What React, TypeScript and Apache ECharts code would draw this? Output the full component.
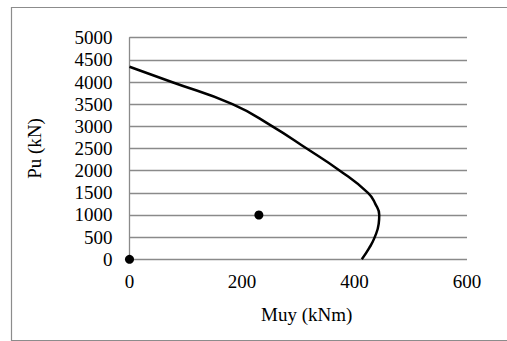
import React, { useEffect, useRef } from "react";
import * as echarts from "echarts";

const curveMuy = [0, 75, 183, 254, 315, 374, 424, 437, 444, 443, 436, 426, 413];
const curvePu = [4345, 4000, 3500, 3000, 2500, 2000, 1500, 1250, 1000, 800, 500, 250, 0];
const pointMuy = [0, 230];
const pointPu = [0, 1000];
const xTicks = [0, 200, 400, 600];
const yTicks = [0, 500, 1000, 1500, 2000, 2500, 3000, 3500, 4000, 4500, 5000];

export default function App() {
  const ref = useRef<HTMLDivElement>(null);
  useEffect(() => {
    document.body.style.margin = "0";
    const chart = echarts.init(ref.current!, null, { renderer: "svg" });
    const font = "'Liberation Serif', 'Times New Roman', serif";
    chart.setOption({
      animation: false,
      backgroundColor: "#ffffff",
      textStyle: { fontFamily: font },
      grid: { left: 129.5, right: 40, top: 37.7, bottom: 81.7 },
      graphic: [
        {
          type: "rect",
          shape: { x: 11.5, y: 7.5, width: 510, height: 333 },
          style: { fill: "none", stroke: "#8c8c8c", lineWidth: 1.2 },
          silent: true,
          z: -1,
        },
      ],
      xAxis: {
        type: "value",
        min: xTicks[0],
        max: xTicks[xTicks.length - 1],
        interval: 200,
        name: "Muy (kNm)",
        nameLocation: "middle",
        nameGap: 46,
        nameTextStyle: { fontFamily: font, fontSize: 19, color: "#000", padding: [0, 0, 0, 17] },
        axisLine: { show: false },
        axisTick: { show: false },
        splitLine: { show: false },
        axisLabel: { fontFamily: font, fontSize: 19, color: "#000", margin: 13, formatter: (v: number) => String(v) },
      },
      yAxis: {
        type: "value",
        min: yTicks[0],
        max: yTicks[yTicks.length - 1],
        interval: 500,
        name: "Pu (kN)",
        nameLocation: "middle",
        nameGap: 86,
        nameTextStyle: { fontFamily: font, fontSize: 19, color: "#000" },
        axisLine: { show: true, lineStyle: { color: "#8a8a8a", width: 1.3 } },
        axisTick: { show: false },
        splitLine: { show: true, lineStyle: { color: "#8a8a8a", width: 1.3 } },
        axisLabel: { fontFamily: font, fontSize: 19, color: "#000", margin: 17, formatter: (v: number) => String(v) },
      },
      series: [
        {
          type: "line",
          data: curveMuy.map((m, i) => [m, curvePu[i]]),
          smooth: 0.5,
          showSymbol: false,
          lineStyle: { color: "#000", width: 2.5 },
          z: 3,
        },
        {
          type: "scatter",
          data: pointMuy.map((m, i) => [m, pointPu[i]]),
          symbol: "circle",
          symbolSize: 9,
          itemStyle: { color: "#000", opacity: 1 },
          z: 4,
        },
      ],
    });
    return () => chart.dispose();
  }, []);
  return <div ref={ref} style={{ width: 507, height: 341 }} />;
}
